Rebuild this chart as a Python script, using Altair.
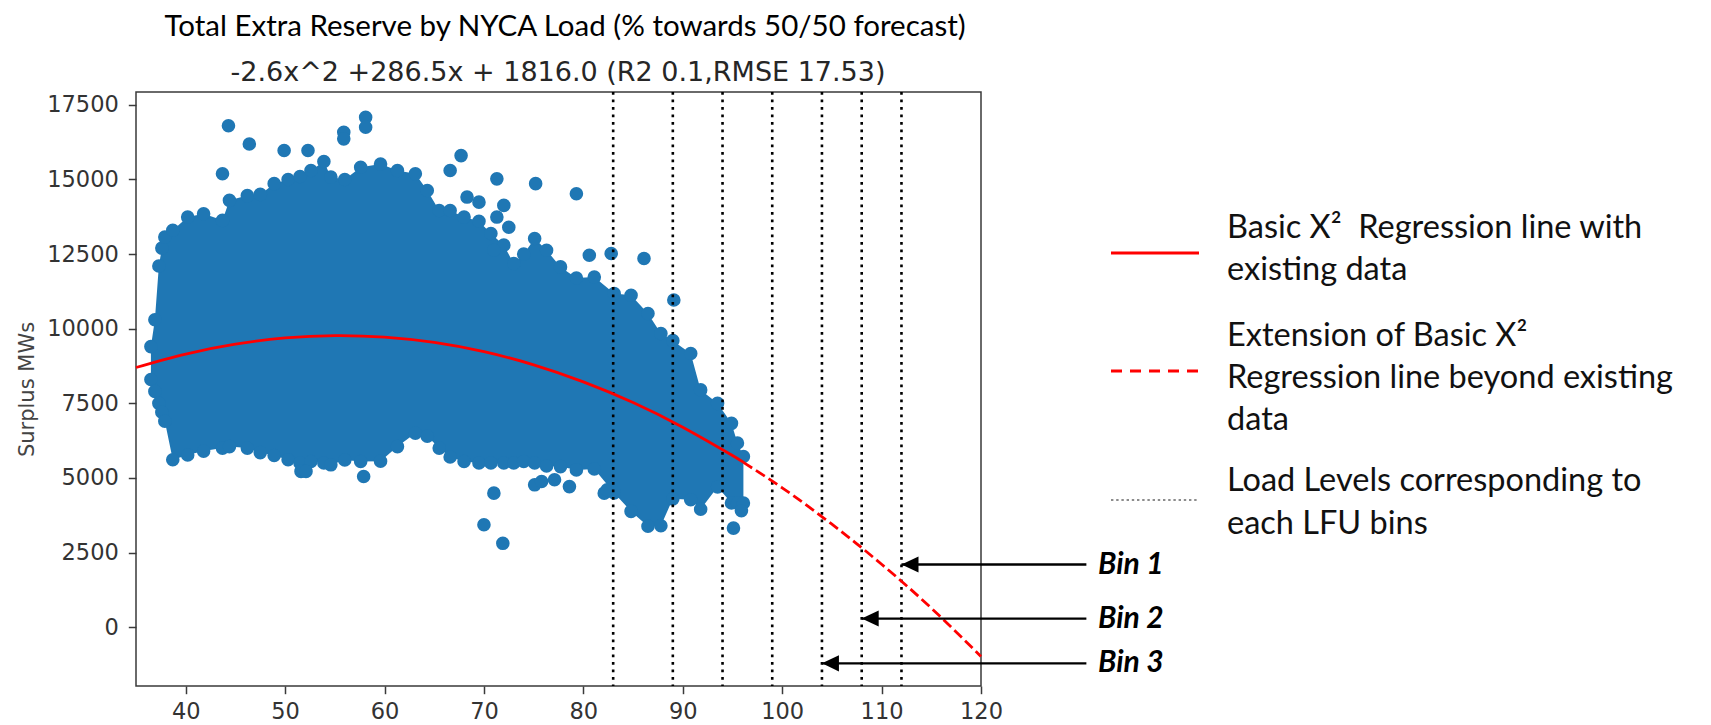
import altair as alt
import pandas as pd

# ---------------- data ----------------
# outline of the dense scatter cloud (centres of the outermost dots)
env_load = [36.5, 36.9, 37.3, 37.6, 37.9, 38.7, 40.2, 41.8, 43.7, 44.4, 46.2, 47.5, 48.9, 50.3,
            51.5, 52.6, 53.9, 54.6, 56.0, 57.6, 59.6, 61.3, 63.1, 64.3, 65.5, 66.6, 68.0, 69.5,
            70.7, 72.0, 73.0, 74.0, 75.1, 76.3, 77.7, 79.3, 81.1, 83.1, 84.8, 86.5, 87.8, 89.0,
            90.8, 91.8, 93.5, 94.9, 95.5, 96.1]
env_high = [9400, 10300, 12100, 12700, 13070, 13300, 13740, 13850, 13630, 14300, 14460, 14500,
            14860, 15000, 15100, 15300, 15600, 15080, 15000, 15410, 15520, 15300, 15190, 14630,
            13960, 13960, 13740, 13600, 13190, 12800, 12180, 12500, 13020, 12630, 12070, 11700,
            11730, 11180, 11120, 10510, 9840, 9600, 9170, 7950, 7500, 6830, 6170, 5720]
env_low = [8300, 7900, 7500, 7200, 6900, 5610, 5770, 5900, 6000, 6050, 6000, 5850, 5750, 5610,
           5500, 5550, 5500, 5440, 5600, 5550, 5560, 6050, 6500, 6400, 6000, 5700, 5550, 5500,
           5500, 5500, 5500, 5550, 5500, 5400, 5380, 5270, 5300, 4500, 3880, 3380, 3400, 4300,
           4270, 3950, 4700, 4160, 4160, 4160]

# isolated dots outside the outline
out_load = [44.3, 46.4, 43.7, 49.9, 52.3, 55.9, 55.9, 58.1, 58.1, 66.6, 67.7, 68.3, 69.5, 71.3,
            72.0, 72.5, 71.3, 71.0, 75.2, 79.3, 80.6, 82.8, 86.1, 89.1, 51.6, 52.1, 57.9, 71.0,
            70.0, 71.9, 75.1, 75.8, 77.1, 78.6, 82.1, 82.4, 95.1, 95.9]
out_mw = [16800, 16190, 15190, 15970, 15970, 16580, 16360, 17080, 16750, 15300, 15800, 14410,
          14240, 15020, 14130, 13400, 13740, 12630, 14860, 14520, 12460, 12520, 12350, 10960,
          5220, 5220, 5050, 4490, 3430, 2810, 4770, 4880, 4940, 4710, 4490, 4600, 3320, 3900]

# regression curve (solid over the data, dashed beyond it)
fit_load = [35, 40, 45, 50, 55, 60, 65, 70, 75, 80, 85, 90, 95, 96.1]
fit_mw = [8700, 9150, 9480, 9690, 9770, 9720, 9540, 9230, 8790, 8220, 7530, 6700, 5750, 5520]
ext_load = [96.1, 100, 105, 110, 115, 120]
ext_mw = [5520, 4670, 3450, 2110, 640, -980]

# load levels of the LFU bins
level_load = [83, 89, 94, 99, 104, 108, 112]

# bin annotations
bin_names = ["Bin 1", "Bin 2", "Bin 3"]
bin_load = [112, 108, 104]
bin_mw = [2100, 290, -1210]

x_ticks = [40, 50, 60, 70, 80, 90, 100, 110, 120]
y_ticks = [0, 2500, 5000, 7500, 10000, 12500, 15000, 17500]

title_text = "Total Extra Reserve by NYCA Load (% towards 50/50 forecast)"
subtitle_text = "-2.6x^2 +286.5x + 1816.0 (R2 0.1,RMSE 17.53)"
y_title = "Surplus MWs"
legend_texts = [
    "Basic X\u00b2\u00a0 Regression line with\nexisting data",
    "Extension of Basic X\u00b2\nRegression line beyond existing\ndata",
    "Load Levels corresponding to\neach LFU bins",
]

# ---------------- styling ----------------
BLUE = "#1f77b4"
RED = "#ff0000"
W, H = 845, 594
PAD = {"left": 136, "top": 92, "right": 730, "bottom": 39}
ARROW_TAIL = 130.6          # load units, right of the plot
ARROW_HEAD = "M -1 0 L 1 -0.95 L 1 0.95 Z"
XS = alt.Scale(domain=[35, 120], nice=False, zero=False)
YS = alt.Scale(domain=[-1970, 17930], nice=False, zero=False)


def xe(f):
    return alt.X(f"{f}:Q", scale=XS, title=None,
                 axis=alt.Axis(values=x_ticks, labelPadding=7, labelFlush=False))


def ye(f):
    return alt.Y(f"{f}:Q", scale=YS, title=y_title,
                 axis=alt.Axis(values=y_ticks, format="d", labelPadding=10,
                               titlePadding=9, labelFlush=False))


env_df = pd.DataFrame({"load": env_load, "high": env_high, "low": env_low})
dots_df = pd.DataFrame({
    "load": env_load + env_load + out_load,
    "mw": env_high + env_low + out_mw,
})
fit_df = pd.DataFrame({"load": fit_load, "mw": fit_mw})
ext_df = pd.DataFrame({"load": ext_load, "mw": ext_mw})
lvl_df = pd.DataFrame({"load": level_load})
bin_df = pd.DataFrame({"name": bin_names, "tip": bin_load, "mw": bin_mw,
                       "tail": [ARROW_TAIL] * len(bin_names)})

cloud = alt.Chart(env_df).mark_area(color=BLUE, opacity=1).encode(
    x=xe("load"), y=ye("low"), y2=alt.Y2("high"))
dots = alt.Chart(dots_df).mark_circle(color=BLUE, opacity=1, size=185).encode(
    x=xe("load"), y=ye("mw"))
levels = alt.Chart(lvl_df).mark_rule(color="black", strokeWidth=2.6,
                                     strokeDash=[2.8, 4.7]).encode(x=xe("load"))
fit = alt.Chart(fit_df).mark_line(color=RED, strokeWidth=2.8, interpolate="natural").encode(
    x=xe("load"), y=ye("mw"))
ext = alt.Chart(ext_df).mark_line(color=RED, strokeWidth=2.8, interpolate="natural",
                                  strokeDash=[10.5, 4.5]).encode(x=xe("load"), y=ye("mw"))

arrow_line = alt.Chart(bin_df).mark_rule(color="black", strokeWidth=2.3).encode(
    x=xe("tail"), x2=alt.X2("tip"), y=ye("mw"))
arrow_head = alt.Chart(bin_df).mark_point(shape=ARROW_HEAD, filled=True, color="black",
                                          opacity=1, size=289, xOffset=8.5).encode(
    x=xe("tip"), y=ye("mw"))
bin_text = alt.Chart(bin_df).mark_text(font="Lato", fontSize=30, fontStyle="italic",
                                       fontWeight="bold", align="left", baseline="middle",
                                       color="black").encode(
    x=alt.value(962), y=ye("mw"), text="name:N")

one = pd.DataFrame({"k": [0]})
title = alt.Chart(pd.DataFrame({"t": [title_text]})).mark_text(
    font="Lato", fontSize=29.5, color="black", align="center", baseline="alphabetic").encode(
    x=alt.value(429), y=alt.value(-56), text="t:N")
subtitle = alt.Chart(pd.DataFrame({"t": [subtitle_text]})).mark_text(
    font="DejaVu Sans", fontSize=27, color="#262626", align="center",
    baseline="alphabetic").encode(x=alt.value(422), y=alt.value(-11), text="t:N")

leg_solid = alt.Chart(one).mark_rule(color=RED, strokeWidth=3).encode(
    x=alt.value(975), x2=alt.value(1063), y=alt.value(161))
leg_dash = alt.Chart(one).mark_rule(color=RED, strokeWidth=3, strokeDash=[11, 8]).encode(
    x=alt.value(975), x2=alt.value(1063), y=alt.value(279))
leg_dot = alt.Chart(one).mark_rule(color="#8c8c8c", strokeWidth=2, strokeDash=[2.4, 2.8]).encode(
    x=alt.value(975), x2=alt.value(1063), y=alt.value(408))

leg_layers = []
for txt, yb, lh in zip(legend_texts, [146, 254, 399], [42, 42, 43]):
    leg_layers.append(
        alt.Chart(pd.DataFrame({"t": [txt]})).mark_text(
            font="Lato", fontSize=32.5, color="#111111", align="left", baseline="alphabetic",
            lineBreak="\n", lineHeight=lh).encode(
            x=alt.value(1091), y=alt.value(yb), text="t:N"))

chart = alt.layer(
    cloud, dots, levels, fit, ext, arrow_line, arrow_head, bin_text, title, subtitle,
    leg_solid, leg_dash, leg_dot, *leg_layers
).properties(
    width=W, height=H, padding=PAD, autosize=alt.AutoSizeParams(type="none"),
    background="white"
).configure_view(
    stroke="#3a3a3a", strokeWidth=1.5
).configure_axis(
    domain=False, grid=False, ticks=True, tickColor="#3a3a3a", tickWidth=1.5, tickSize=7.7,
    labelFont="DejaVu Sans", labelFontSize=22.5, labelColor="#333333",
    titleFont="DejaVu Sans", titleFontSize=21, titleColor="#444444", titleFontWeight="normal",
    labelOverlap=False
)

chart.save("out.html", embed_options={"renderer": "svg", "actions": False})
